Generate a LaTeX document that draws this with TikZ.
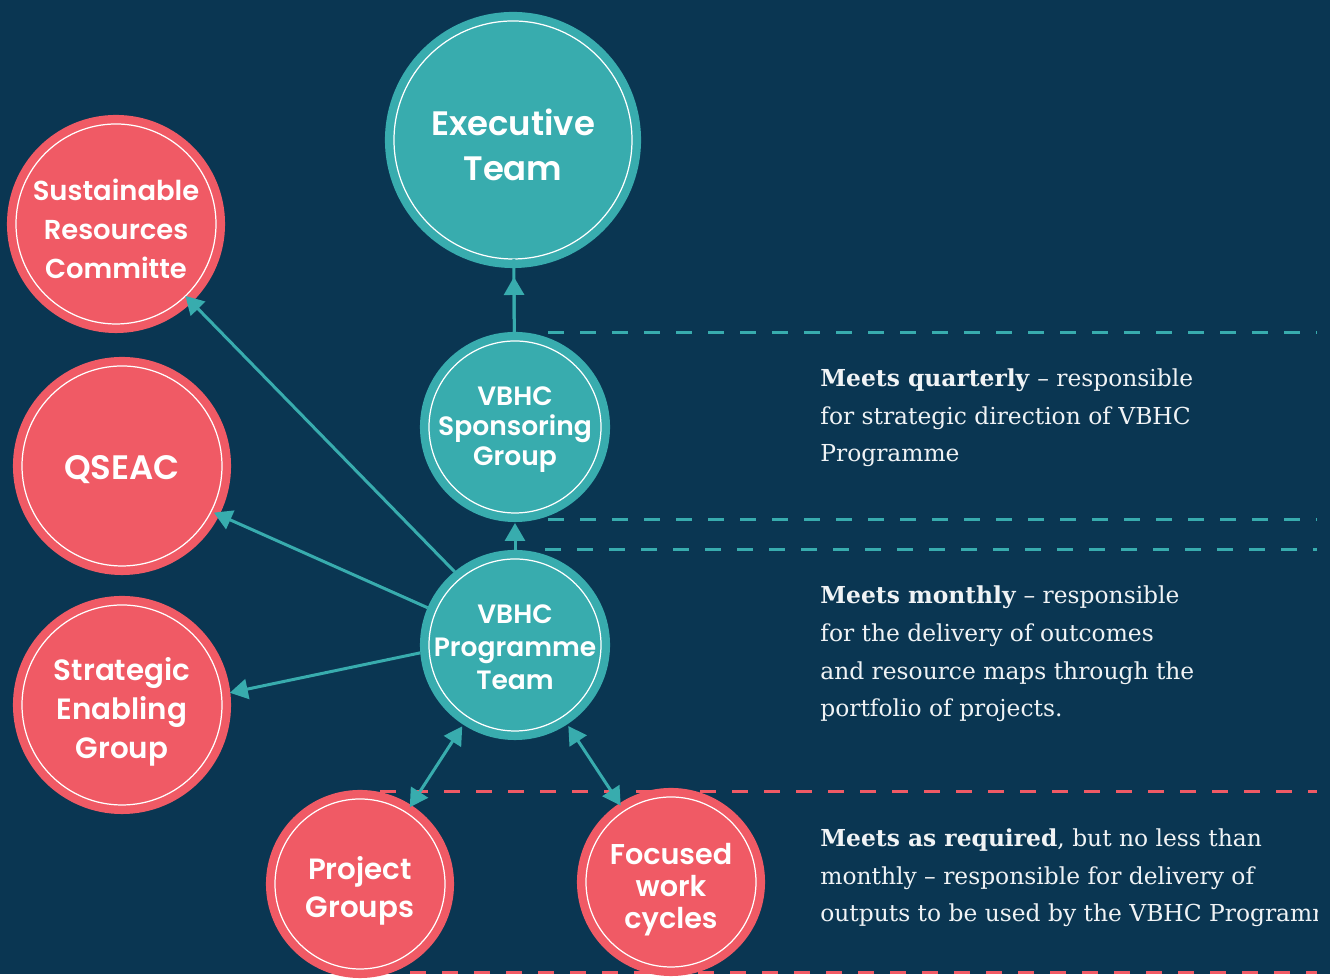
\documentclass[tikz,border=0pt]{standalone}
\usepackage{fontspec}
\setmainfont{DejaVu Serif}
\setsansfont{Poppins}[BoldFont={Poppins SemiBold}]
\usetikzlibrary{arrows.meta}

\definecolor{navy}{HTML}{0A3652}
\definecolor{tealc}{HTML}{38ACAE}
\definecolor{coral}{HTML}{F05A65}

\tikzset{
  disc/.style={circle, draw=#1, fill=#1, double=white, double distance=0.7pt, line width=4.8pt,
    outer sep=0pt, inner sep=0pt},
  caption/.style={text=white, align=center, inner sep=0pt},
  stem/.style={tealc, line width=0.06cm},
  link/.style={stem, -{Triangle[length=0.36cm, width=0.4cm]}},
  both/.style={stem, {Triangle[length=0.36cm, width=0.4cm]}-{Triangle[length=0.36cm, width=0.4cm]}},
  guide/.style={#1, line width=0.06cm, dash pattern=on 0.32cm off 0.32cm},
  note/.style={anchor=base west, align=left, inner sep=0pt, text=white!94!navy,
    font=\fontsize{13.3}{21.45}\selectfont}
}

\begin{document}
\begin{tikzpicture}

  \fill[navy] (0,0) rectangle (26.6,19.48);

  \draw[guide=tealc] (10.96,12.82) -- (26.34,12.82);
  \draw[guide=tealc] (10.96,9.08) -- (26.34,9.08);
  \draw[guide=tealc] (10.9,8.48) -- (26.34,8.48);
  \draw[guide=coral] (7.6,3.64) -- (26.34,3.64);
  \draw[guide=coral] (8.2,0.03) -- (26.34,0.03);

  \node[disc=tealc, minimum size=4.76cm] (exec) at (10.26,16.68) {};
  \node[disc=tealc, minimum size=3.44cm] (spons) at (10.30,10.94) {};
  \node[disc=tealc, minimum size=3.44cm] (prog) at (10.30,6.58) {};

  \node[disc=coral, minimum size=4cm] (src) at (2.32,15.0) {};
  \node[disc=coral, minimum size=4cm] (qseac) at (2.44,10.16) {};
  \node[disc=coral, minimum size=4cm] (seg) at (2.44,5.38) {};

  \node[disc=coral, minimum size=3.4cm] (proj) at (7.20,1.80) {};
  \node[disc=coral, minimum size=3.4cm] (focus) at (13.42,1.84) {};

  \node[caption, yshift=-0.1cm, font=\sffamily\bfseries\fontsize{19.3}{25.6}\selectfont] (exec-text) at (exec) {Executive\\Team};
  \node[caption, yshift=-0.06cm, font=\sffamily\bfseries\fontsize{15.1}{17}\selectfont] (spons-text) at (spons) {VBHC\\Sponsoring\\Group};
  \node[caption, yshift=-0.05cm, font=\sffamily\bfseries\fontsize{15.1}{18.8}\selectfont] (prog-text) at (prog) {VBHC\\Programme\\Team};

  \node[caption, yshift=-0.1cm, font=\sffamily\bfseries\fontsize{15.6}{22.3}\selectfont] (src-text) at (src) {Sustainable\\Resources\\Committe};
  \node[caption, yshift=-0.08cm, font=\sffamily\bfseries\fontsize{19.3}{22}\selectfont] (qseac-text) at (qseac) {QSEAC};
  \node[caption, yshift=-0.14cm, font=\sffamily\bfseries\fontsize{16.7}{22.2}\selectfont] (seg-text) at (seg) {Strategic\\Enabling\\Group};

  \node[caption, yshift=-0.14cm, font=\sffamily\bfseries\fontsize{16.7}{21.6}\selectfont] (proj-text) at (proj) {Project\\Groups};
  \node[caption, yshift=-0.16cm, font=\sffamily\bfseries\fontsize{16.3}{18.2}\selectfont] (focus-text) at (focus) {Focused\\work\\cycles};

  \draw[stem, shorten <=0.18cm] (spons) -- (exec);
  \draw[link, shorten <=0.18cm, shorten >=0.36cm] (spons) -- (exec);
  \draw[link, shorten <=0.18cm, shorten >=0.2cm] (prog) -- (spons);

  \draw[link, shorten <=0.18cm] (prog.129) -- (src.-46);
  \draw[link, shorten <=0.18cm, shorten >=0.06cm] (prog.157) -- (qseac.-27);
  \draw[link, shorten <=0.18cm, shorten >=0.17cm] (prog.184) -- (seg.6);

  \draw[both, shorten <=0.22cm, shorten >=0.13cm] (prog) -- (proj);
  \draw[both, shorten <=0.22cm, shorten >=0.13cm] (prog) -- (focus);

  \begin{scope}
    \clip (0,0) rectangle (26.34,19.48);
    \node[note] (quarterly) at (16.4,10.24) {\textbf{Meets quarterly} -- responsible\\for strategic direction of VBHC\\Programme};
    \node[note] (monthly) at (16.4,5.14) {\textbf{Meets monthly} -- responsible\\for the delivery of outcomes\\and resource maps through the\\portfolio of projects.};
    \node[note] (required) at (16.4,1.04) {\textbf{Meets as required}, but no less than\\monthly -- responsible for delivery of\\outputs to be used by the VBHC Programme};
  \end{scope}

\end{tikzpicture}
\end{document}
